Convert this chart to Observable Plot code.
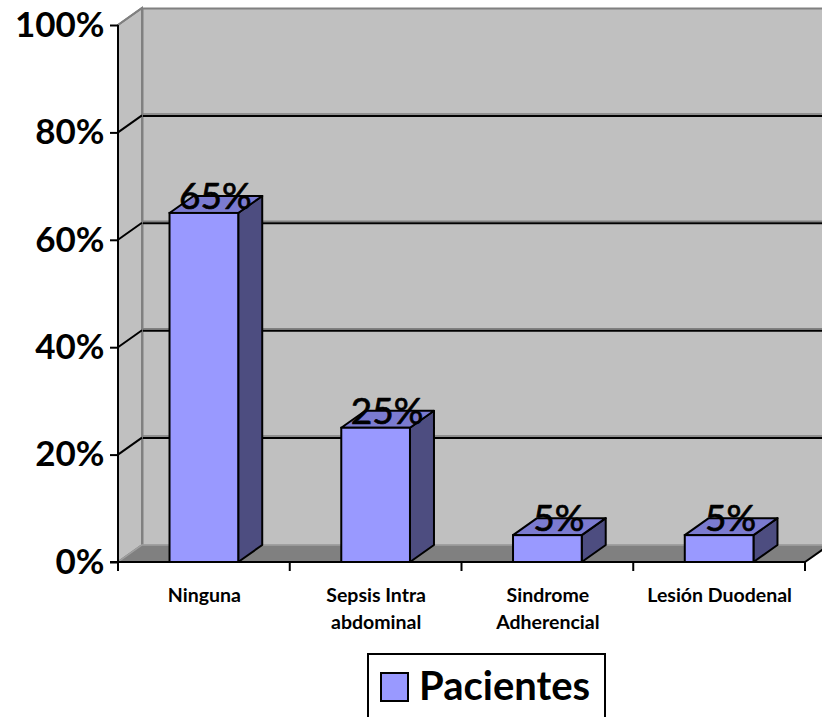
<!DOCTYPE html>
<html>
<head>
<meta charset="utf-8">
<script src="https://cdn.jsdelivr.net/npm/d3@7"></script>
<script src="https://cdn.jsdelivr.net/npm/@observablehq/plot@0.6"></script>
<style>
  body { margin: 0; background: #fff; font-family: Lato, "Open Sans", sans-serif; }
  #wrap { position: relative; width: 822px; height: 717px; overflow: hidden; }
  #chart svg { display: block; }
  .legend { position: absolute; left: 367px; top: 653px; width: 239px; height: 80px;
            box-sizing: border-box; border: 2px solid #000; background: #fff; }
  .legend .sw { position: absolute; left: 11px; top: 17px; width: 29px; height: 30px;
                box-sizing: border-box; background: #9999ff; border: 2px solid #000; }
  .legend .lb { position: absolute; left: 50px; top: 10px; font-size: 40px; line-height: 40px;
                font-weight: 700; color: #000; white-space: nowrap; }
</style>
</head>
<body>
<div id="wrap">
  <div id="chart"></div>
  <div class="legend"><div class="sw"></div><div class="lb" id="series"></div></div>
</div>
<script>
// Complications after surgery, share of patients
const categories = ["Ninguna", "Sepsis Intra abdominal", "Sindrome Adherencial", "Lesión Duodenal"];
const tickLabels = ["Ninguna", "Sepsis Intra\nabdominal", "Sindrome\nAdherencial", "Lesión Duodenal"];
const values = [0.65, 0.25, 0.05, 0.05];
const yTicks = [0, 0.2, 0.4, 0.6, 0.8, 1];
const seriesName = "Pacientes";

const data = categories.map((cat, i) => ({cat, value: values[i], label: tickLabels[i]}));
const pct = d3.format(".0%");

// depth of the pseudo-3D box, in pixels
const DX = 24, DY = -17;
const FRONT = "#9999ff", TOP = "#7b7bd0", SIDE = "#4d4d80";
const WALL = "#c0c0c0", FLOOR = "#808080", EDGE = "#808080";

const path = pts => "M" + pts.map(p => p.join(",")).join("L") + "Z";

// left side wall with its receding gridlines
const sideWall = (_, {x, y}) => {
  const g = d3.create("svg:g");
  const [x0] = x.range();
  const yb = y(0), yt = y(1);
  g.append("path")
    .attr("d", path([[x0, yt], [x0 + DX, yt + DY], [x0 + DX, yb + DY], [x0, yb]]))
    .attr("fill", WALL).attr("stroke", EDGE).attr("stroke-width", 2);
  for (const t of yTicks) {
    if (t === 0) continue;
    g.append("line")
      .attr("x1", x0).attr("y1", y(t)).attr("x2", x0 + DX).attr("y2", y(t) + DY)
      .attr("stroke", t === 1 ? EDGE : "#000").attr("stroke-width", 2);
  }
  return g.node();
};

// floor of the box
const floor = (_, {x, y}) => {
  const g = d3.create("svg:g");
  const [x0, x1] = x.range();
  const yb = y(0);
  g.append("path")
    .attr("d", path([[x0, yb], [x1, yb], [x1 + DX, yb + DY], [x0 + DX, yb + DY]]))
    .attr("fill", FLOOR).attr("stroke", "#a0a0a0").attr("stroke-width", 1.5);
  g.append("line")
    .attr("x1", x1).attr("y1", yb).attr("x2", x1 + DX).attr("y2", yb + DY)
    .attr("stroke", "#000").attr("stroke-width", 2);
  return g.node();
};

// top and side faces of each column
const barFaces = (_, {x, y}) => {
  const g = d3.create("svg:g")
    .attr("stroke", "#000").attr("stroke-width", 2).attr("stroke-linejoin", "round");
  const bw = x.bandwidth();
  for (const d of data) {
    const xl = x(d.cat), xr = xl + bw, yt = y(d.value), yb = y(0);
    g.append("path").attr("fill", SIDE)
      .attr("d", path([[xr, yt], [xr + DX, yt + DY], [xr + DX, yb + DY], [xr, yb]]));
    g.append("path").attr("fill", TOP)
      .attr("d", path([[xl, yt], [xr, yt], [xr + DX, yt + DY], [xl + DX, yt + DY]]));
  }
  return g.node();
};

// front axis lines with category boundary ticks
const axisLines = (_, {x, y}) => {
  const g = d3.create("svg:g").attr("stroke", "#000").attr("stroke-width", 2).attr("fill", "none");
  const [x0, x1] = x.range();
  const yb = y(0), yt = y(1);
  g.append("line").attr("x1", x0).attr("y1", yt).attr("x2", x0).attr("y2", yb + 1);
  g.append("line").attr("x1", x0 - 8).attr("y1", yb).attr("x2", x1).attr("y2", yb);
  const step = (x1 - x0) / categories.length;
  for (let i = 0; i <= categories.length; ++i) {
    const xi = x0 + i * step;
    g.append("line").attr("x1", xi).attr("y1", yb).attr("x2", xi).attr("y2", yb + 9);
  }
  return g.node();
};

const chart = Plot.plot({
  width: 822,
  height: 645,
  marginLeft: 118,
  marginRight: 17,
  marginTop: 25,
  marginBottom: 83,
  style: {fontFamily: "Lato, 'Open Sans', sans-serif", background: "transparent", color: "#000"},
  x: {domain: categories, paddingInner: 0.6, paddingOuter: 0.3, round: false, axis: null},
  y: {domain: [0, 1], axis: null},
  marks: [
    Plot.frame({fill: WALL, stroke: EDGE, strokeWidth: 2, dx: DX, dy: DY}),
    Plot.ruleY(yTicks.filter(t => t > 0 && t < 1), {dx: DX, dy: DY - 2, stroke: EDGE, strokeWidth: 1.5}),
    Plot.ruleY(yTicks.filter(t => t > 0 && t < 1), {dx: DX, dy: DY, stroke: "#000", strokeWidth: 2}),
    sideWall,
    floor,
    barFaces,
    Plot.barY(data, {x: "cat", y: "value", fill: FRONT, stroke: "#000", strokeWidth: 2}),
    axisLines,
    Plot.axisY(yTicks, {
      tickFormat: pct, tickSize: 8, tickPadding: 6, stroke: "#000", strokeWidth: 2,
      fontSize: 35, fontWeight: "bold", fill: "#000", label: null
    }),
    Plot.text(data, {
      x: "cat", text: "label", frameAnchor: "bottom", lineAnchor: "top", dy: 20,
      fontSize: 19.5, fontWeight: "bold", lineHeight: 1.4, fill: "#000"
    }),
    Plot.text(data, {
      x: "cat", y: "value", text: d => pct(d.value), dx: 11, dy: -16,
      lineAnchor: "middle", fontSize: 37, fill: "#000", stroke: "#000", strokeWidth: 0.7
    })
  ]
});

document.getElementById("chart").append(chart);
document.getElementById("series").textContent = seriesName;
</script>
</body>
</html>
